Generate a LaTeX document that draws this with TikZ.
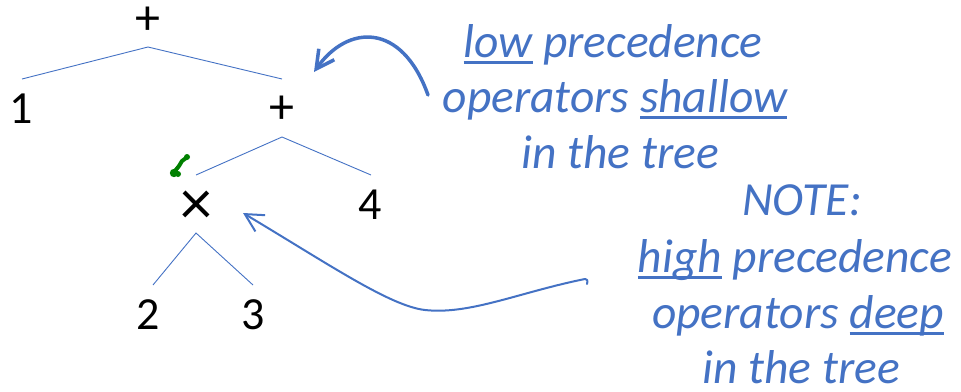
\documentclass[tikz,border=0pt]{standalone}
\usepackage{fontspec}
\setmainfont{Carlito}
\usetikzlibrary{arrows.meta}
\definecolor{ublue}{HTML}{4472C4}
\definecolor{mkgreen}{RGB}{0,128,0}
\newcommand\ulw[1]{\setbox0\hbox{#1}\rlap{\color{ublue}\rule[-7pt]{\wd0}{3pt}}\box0\relax}
\tikzset{
  sym/.style={inner sep=0pt, font=\fontsize{46}{46}\selectfont, text=black},
  treeedge/.style={draw=ublue, line width=0.9pt},
  noteline/.style={inner sep=0pt, anchor=base, text=ublue, font=\fontsize{47.5}{56}\selectfont\itshape},
  pointer/.style={draw=ublue, line cap=round, line join=round, -{Straight Barb[length=18pt,width=19pt]}}
}
\begin{document}
\begin{tikzpicture}[x=1pt,y=-1pt]
\useasboundingbox (0,0) rectangle (961,391);
% tree symbols
\node[sym, font=\fontsize{50}{50}\selectfont] (p1) at (148,21) {+};
\node[sym] (n1) at (21,109) {1};
\node[sym, font=\fontsize{50}{50}\selectfont] (p2) at (282,110) {+};
\node[sym, font=\fontsize{64}{64}\selectfont] (t)  at (196,208) {×};
\node[sym] (n4) at (370,205) {4};
\node[sym] (n2) at (148,315) {2};
\node[sym] (n3) at (253,315) {3};
% edge end points
\coordinate (a1) at (148,47);
\coordinate (a1l) at (22,79);
\coordinate (a1r) at (282,79);
\coordinate (a2) at (282,137);
\coordinate (a2l) at (196,175);
\coordinate (a2r) at (371,175);
\coordinate (a3) at (196,233);
\coordinate (a3l) at (153,285);
\coordinate (a3r) at (253,285);
\draw[treeedge] (a1l) -- (a1) -- (a1r);
\draw[treeedge] (a2l) -- (a2) -- (a2r);
\draw[treeedge] (a3l) -- (a3) -- (a3r);
% green mark
\draw[mkgreen, line width=4pt, line cap=round, line join=round] (175,171) -- (179,166) -- (182,161) -- (186,158);
\fill[mkgreen] (174,173) circle (4.2pt) (178,174) circle (3pt) (187,157) circle (3pt);
% notes
\node[noteline] (l1) at (613,57) {\ulw{low} precedence};
\node[noteline] (l2) at (615,112) {operators \ulw{shallow}};
\node[noteline] (l3) at (620,168) {in the tree};
\node[noteline] (m0) at (802,215) {NOTE:};
\node[noteline] (m1) at (795,272) {\ulw{high} precedence};
\node[noteline] (m2) at (798,328) {operators \ulw{deep}};
\node[noteline] (m3) at (801,383) {in the tree};
% arrows
\coordinate (s1) at (428,95);
\coordinate (e1) at (314,72);
\draw[pointer, line width=3.5pt] (s1) .. controls (402,22) and (348,24) .. (e1);
\coordinate (s2) at (585,279);
\coordinate (b2) at (425,310);
\coordinate (e2) at (243,213);
\draw[pointer, line width=2pt] (587,284) .. controls (588,280) and (587,279) .. (s2)
  .. controls (520,292) and (470,315) .. (b2)
  .. controls (390,306) and (330,265) .. (e2);
\end{tikzpicture}
\end{document}
